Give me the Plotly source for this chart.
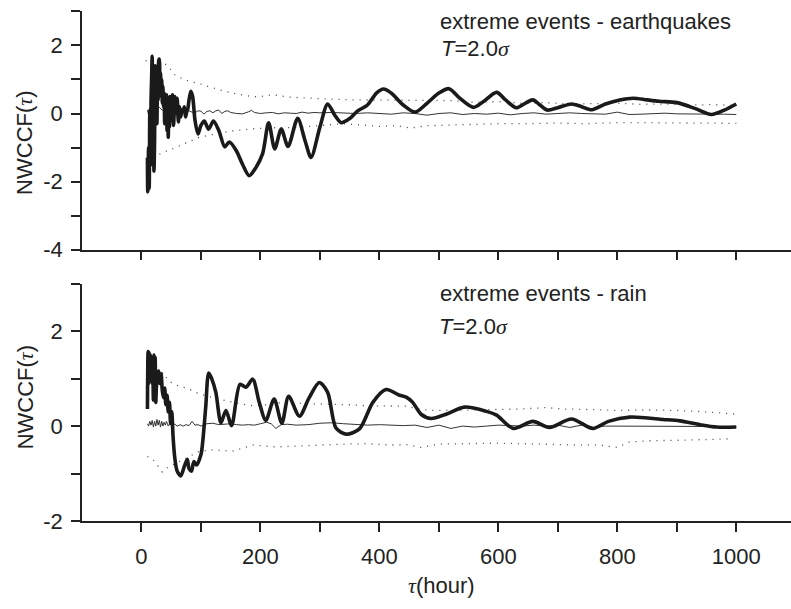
import plotly.graph_objects as go

# ---------------- data ----------------
# Top panel: extreme events - earthquakes
eq_thick_x = [10, 10.5, 12, 13, 14, 15, 16, 17, 18, 19, 20, 21, 22, 23, 24, 25, 26, 27, 28, 29, 30,
              31, 32, 33, 34, 35, 36, 37, 38, 39, 40, 41, 42, 43, 44, 45, 46, 47, 48, 50, 52, 54, 56,
              58, 60, 62, 64, 66, 68, 70, 72, 74, 76, 78, 80, 83, 86, 90, 95, 100, 105.6, 112.9, 121,
              130, 140, 147.6, 159, 170, 181, 192, 203.7, 213.8, 224, 235, 246.4, 262.6, 275, 285,
              300, 313, 325, 335.7, 350, 363, 380, 395, 407, 420, 440, 460, 480, 500, 517, 535, 558,
              575, 597, 612, 630, 645, 658, 670, 682, 700, 723, 740, 757, 780, 804, 827, 850, 870,
              900, 930, 958, 980, 1000]
eq_thick_y = [-1.3, -2.3, -1.0, -2.2, 0.1, -1.5, 0.3, 1.0, 1.68, -0.5, 0.9, -1.7, -0.8, 1.4, 0.2, 1.3,
              -0.3, 1.2, 0.4, 1.55, 1.6, 0.8, 1.2, 0.5, 1.0, 0.3, 0.8, 0.2, 0.6, -0.3, 0.5, -0.1, 0.55,
              -0.5, 0.4, -0.7, 0.3, -0.4, 0.5, -0.2, 0.55, -0.35, 0.5, 0.0, 0.45, -0.25, 0.2, -0.1,
              0.1, 0.05, 0.2, -0.1, 0.05, 0.15, 0.4, 0.65, 0.5, -0.2, -0.6, -0.35, -0.22, -0.46,
              -0.22, -0.5, -0.98, -0.84, -1.08, -1.5, -1.83, -1.6, -1.18, -0.27, -1.04, -0.46, -0.97,
              -0.14, -0.8, -1.29, -0.4, 0.28, -0.05, -0.27, -0.15, 0.07, 0.25, 0.6, 0.72, 0.6, 0.25,
              0.04, 0.3, 0.6, 0.73, 0.45, 0.18, 0.35, 0.62, 0.4, 0.17, 0.3, 0.4, 0.25, 0.1, 0.17,
              0.28, 0.2, 0.11, 0.28, 0.4, 0.45, 0.4, 0.36, 0.32, 0.15, -0.03, 0.1, 0.28]

eq_thin_x = [10, 13, 16, 20, 25, 30, 35, 40, 45, 50, 55, 60, 65, 70, 75, 80, 85, 90, 95, 100, 105,
             110, 115, 120, 125, 130, 135, 140, 145, 150, 160, 170, 180, 185, 190, 200, 210, 220,
             230, 240, 250, 260, 270, 280, 290, 300, 320, 340, 360, 380, 400, 420, 440, 460, 480,
             500, 520, 540, 560, 580, 600, 620, 640, 660, 680, 700, 720, 740, 760, 780, 800, 820,
             840, 860, 880, 900, 920, 940, 960, 980, 1000]
eq_thin_y = [0.1, -0.1, 0.15, 0.2, 0.12, 0.18, 0.1, 0.12, 0.05, 0.1, 0.06, 0.1, 0.04, 0.08, 0.05, 0.08,
             0.04, 0.02, 0.08, 0.07, -0.02, 0.06, 0.08, 0.02, 0.08, 0.1, 0.0, 0.06, 0.08, 0.03, 0.0,
             -0.01, 0.05, 0.09, 0.03, 0.0, 0.02, 0.03, -0.01, 0.02, 0.01, 0.0, 0.04, 0.01, 0.03, 0.02,
             0.03, 0.02, 0.0, 0.02, 0.0, -0.02, 0.02, 0.0, -0.05, 0.0, 0.02, -0.03, 0.0, -0.02, 0.01,
             -0.04, 0.0, 0.02, -0.02, 0.0, 0.02, 0.0, -0.02, -0.02, 0.04, -0.03, -0.02, 0.0, 0.01,
             -0.01, -0.02, -0.02, -0.02, -0.02, -0.03]

eq_up_x = [7, 15, 25, 35, 45, 55, 65, 80, 97, 120, 153, 187, 200, 220, 250, 280, 320, 360, 400, 440,
           480, 520, 560, 600, 640, 680, 720, 760, 800, 840, 880, 920, 960, 1000]
eq_up_y = [1.56, 1.5, 1.45, 1.5, 1.4, 1.15, 1.05, 0.95, 0.88, 0.75, 0.6, 0.49, 0.5, 0.55, 0.48, 0.45,
           0.42, 0.4, 0.4, 0.38, 0.4, 0.38, 0.33, 0.35, 0.3, 0.32, 0.28, 0.3, 0.3, 0.27, 0.28, 0.25,
           0.26, 0.24]
eq_lo_x = [20, 25, 35, 52, 70, 97, 130, 153, 187, 220, 260, 300, 340, 380, 400, 430, 452, 480, 520,
           560, 600, 650, 700, 750, 800, 850, 900, 950, 1000]
eq_lo_y = [-1.3, -1.25, -1.15, -1.04, -0.9, -0.7, -0.58, -0.51, -0.45, -0.42, -0.41, -0.35, -0.3,
           -0.35, -0.38, -0.36, -0.43, -0.36, -0.34, -0.32, -0.3, -0.3, -0.28, -0.3, -0.27, -0.27,
           -0.28, -0.27, -0.29]

# Bottom panel: extreme events - rain
rn_thick_x = [10, 11, 12, 13, 14, 15, 16, 17, 18, 19, 20, 21, 22, 23, 24, 25, 27, 29, 31, 33, 35, 37,
              39, 41, 43, 45, 47, 49, 51, 53, 56, 60, 66, 72, 77, 80, 84, 88, 92.6, 100, 103, 108,
              113, 118, 125, 133.6, 142, 151.5, 165.6, 175.7, 187, 198, 209, 223, 236, 247.5, 265.5,
              282, 299, 313, 327, 344, 366.5, 389, 411, 434, 445, 456, 470, 487, 512, 543, 580, 597,
              625, 658, 686, 723, 759, 785, 821, 877, 905, 939, 967, 1000]
rn_thick_y = [0.36, 1.57, 0.9, 1.55, 1.0, 1.5, 1.1, 1.45, 0.9, 1.3, 0.55, 1.5, 1.0, 1.45, 0.5, 0.8,
              1.1, 1.16, 0.9, 1.1, 0.75, 0.6, 0.8, 0.45, 0.65, 0.3, 0.5, 0.05, 0.3, -0.2, -0.67,
              -0.95, -1.05, -0.85, -0.7, -0.9, -0.95, -0.75, -0.82, -0.6, -0.33, 0.4, 1.12, 1.0,
              0.71, 0.07, 0.33, 0.01, 0.88, 0.82, 0.99, 0.5, 0.12, 0.57, 0.06, 0.63, 0.21, 0.6,
              0.92, 0.71, -0.04, -0.17, -0.06, 0.5, 0.77, 0.65, 0.61, 0.5, 0.25, 0.16, 0.25, 0.4,
              0.31, 0.23, -0.05, 0.1, -0.03, 0.15, -0.05, 0.1, 0.19, 0.14, 0.11, 0.03, -0.02, -0.02]

rn_thin_x = [10, 12, 14, 16, 18, 20, 22, 24, 26, 28, 30, 32, 34, 36, 38, 40, 42, 45, 48, 52, 56, 60,
             65, 70, 75, 80, 85, 90, 95, 100, 110, 120, 130, 140, 150, 160, 170, 180, 190, 200, 210,
             218, 226, 235, 245, 260, 280, 300, 320, 340, 360, 380, 400, 420, 440, 460, 480, 500,
             520, 540, 560, 580, 600, 620, 640, 660, 680, 700, 720, 740, 760, 780, 800, 850, 900,
             950, 1000]
rn_thin_y = [0.05, 0.0, 0.1, 0.02, 0.12, -0.02, 0.1, 0.0, 0.14, 0.02, 0.12, -0.02, 0.1, 0.0, 0.08,
             0.02, 0.1, 0.0, 0.06, 0.02, 0.04, 0.0, 0.03, 0.0, 0.03, 0.01, 0.1, 0.02, 0.03, 0.0,
             0.05, 0.06, 0.03, 0.04, 0.05, 0.03, 0.02, 0.03, 0.02, 0.05, 0.08, 0.05, -0.05, 0.03,
             0.04, 0.02, 0.03, 0.06, 0.07, 0.05, 0.03, 0.02, 0.03, 0.02, 0.01, 0.02, -0.03, 0.02,
             -0.05, 0.0, -0.02, 0.0, 0.02, 0.01, 0.0, 0.02, 0.0, 0.02, -0.03, 0.02, -0.03, 0.0,
             0.0, 0.0, 0.0, -0.01, -0.01]

rn_up_x = [10, 20, 30, 37, 45, 60, 80, 97, 120, 142, 165, 187, 210, 232, 270, 322, 350, 378, 420,
           445, 470, 490, 515, 550, 600, 640, 680, 710, 750, 800, 850, 900, 950, 1000]
rn_up_y = [0.8, 0.95, 1.05, 1.13, 0.95, 0.86, 0.78, 0.68, 0.6, 0.53, 0.47, 0.43, 0.45, 0.49, 0.48,
           0.47, 0.45, 0.43, 0.42, 0.42, 0.35, 0.33, 0.33, 0.34, 0.35, 0.36, 0.39, 0.36, 0.35, 0.33,
           0.34, 0.33, 0.3, 0.25]
rn_lo_x = [10, 20, 30, 35, 45, 60, 72, 97, 120, 153, 187, 226, 260, 300, 340, 378, 420, 445, 470,
           500, 550, 597, 640, 680, 730, 770, 800, 820, 850, 900, 950, 990]
rn_lo_y = [-0.64, -0.72, -0.88, -0.97, -0.86, -0.78, -0.7, -0.53, -0.5, -0.53, -0.4, -0.44, -0.42,
           -0.4, -0.38, -0.37, -0.4, -0.39, -0.45, -0.38, -0.37, -0.36, -0.37, -0.39, -0.4, -0.4,
           -0.45, -0.34, -0.31, -0.3, -0.29, -0.27]

x_ticks = [0, 100, 200, 300, 400, 500, 600, 700, 800, 900, 1000]
x_ticklabels = ["0", "", "200", "", "400", "", "600", "", "800", "", "1000"]
y1_ticks = [-4, -3, -2, -1, 0, 1, 2, 3]
y1_ticklabels = ["-4", "", "-2", "", "0", "", "2", ""]
y2_ticks = [-2, -1, 0, 1, 2, 3]
y2_ticklabels = ["-2", "", "0", "", "2", ""]

# ---------------- figure ----------------
W, H = 791, 609
ML = 82
INK = "#222222"
FONT = "Liberation Sans, Arial, sans-serif"

fig = go.Figure()

def add_panel(xa, ya, thick_x, thick_y, thin_x, thin_y, up_x, up_y, lo_x, lo_y):
    dot = dict(color="#444444", width=1.3, dash="1px,6px")
    fig.add_trace(go.Scatter(x=up_x, y=up_y, mode="lines", line=dot, xaxis=xa, yaxis=ya,
                             showlegend=False, hoverinfo="skip"))
    fig.add_trace(go.Scatter(x=lo_x, y=lo_y, mode="lines", line=dot, xaxis=xa, yaxis=ya,
                             showlegend=False, hoverinfo="skip"))
    fig.add_trace(go.Scatter(x=thin_x, y=thin_y, mode="lines",
                             line=dict(color="#333333", width=1), xaxis=xa, yaxis=ya,
                             showlegend=False))
    fig.add_trace(go.Scatter(x=thick_x, y=thick_y, mode="lines",
                             line=dict(color="#1a1a1a", width=3.6, shape="spline", smoothing=0.8),
                             xaxis=xa, yaxis=ya, showlegend=False))

add_panel("x", "y", eq_thick_x, eq_thick_y, eq_thin_x, eq_thin_y, eq_up_x, eq_up_y, eq_lo_x, eq_lo_y)
add_panel("x2", "y2", rn_thick_x, rn_thick_y, rn_thin_x, rn_thin_y, rn_up_x, rn_up_y, rn_lo_x, rn_lo_y)

def py(px):
    return (H - px) / H

def px_x(px):
    return (px - ML) / (W - ML)

axis_common = dict(showgrid=False, zeroline=False, showline=True, linecolor=INK, linewidth=1.5,
                   ticks="outside", ticklen=9, tickwidth=1.5, tickcolor=INK,
                   tickfont=dict(family=FONT, size=22, color=INK), mirror=False)

xr = [-100, 1092]
fig.update_layout(
    width=W, height=H,
    margin=dict(l=ML, r=0, t=0, b=0),
    paper_bgcolor="white", plot_bgcolor="white",
    xaxis=dict(domain=[0, 1], anchor="y", range=xr, tickvals=x_ticks, ticktext=x_ticklabels,
               showticklabels=False, **axis_common),
    yaxis=dict(domain=[py(255), py(11.7)], anchor="x", range=[-4, 3], tickvals=y1_ticks,
               ticktext=y1_ticklabels, ticklabelstandoff=4, **axis_common),
    xaxis2=dict(domain=[0, 1], anchor="y2", range=xr, tickvals=x_ticks, ticktext=x_ticklabels,
                ticklabelstandoff=6, **axis_common),
    yaxis2=dict(domain=[py(532.3), py(290)], anchor="x2", range=[-2, 3], tickvals=y2_ticks,
                ticktext=y2_ticklabels, ticklabelstandoff=4, **axis_common),
)

tau = "<span style=\"font-family:'Liberation Serif';font-style:italic\">τ</span>"
sigma = "<span style=\"font-family:'Liberation Serif';font-style:italic\">σ</span>"
afont = dict(family=FONT, size=22, color=INK)

anns = [
    dict(text="NWCCF(" + tau + ")", x=px_x(25), y=py(146), textangle=-90),
    dict(text="NWCCF(" + tau + ")", x=px_x(25), y=py(406), textangle=-90),
    dict(text=tau + "(hour)", x=px_x(441), y=py(598)),
]
for a in anns:
    fig.add_annotation(xref="paper", yref="paper", showarrow=False, font=afont,
                       xanchor="center", yanchor="middle", **a)

labels = [
    ("extreme events - earthquakes", 438, 22),
    ("<i>T</i>=2.0" + sigma, 439, 50),
    ("extreme events - rain", 438, 300),
    ("<i>T</i>=2.0" + sigma, 437, 334),
]
for t, x0, y0 in labels:
    fig.add_annotation(xref="paper", yref="paper", showarrow=False, font=afont, text=t,
                       x=px_x(x0), y=py(y0), xanchor="left", yanchor="middle")

fig.write_html("out.html")
